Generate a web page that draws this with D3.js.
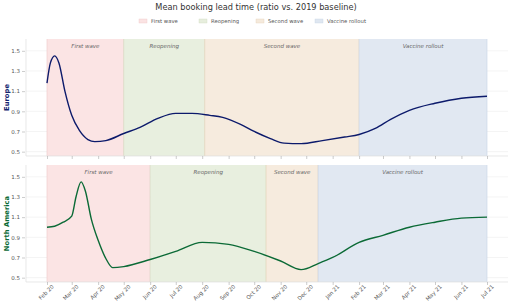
<!DOCTYPE html>
<html>
<head>
<meta charset="utf-8">
<script src="https://cdn.jsdelivr.net/npm/d3@7"></script>
<style>
  body { margin: 0; background: #fff; }
  svg { display: block; font-family: "DejaVu Sans", sans-serif; }
</style>
</head>
<body>
<div id="chart"></div>
<script>
// periods shown in legend
var phaseNames = ["First wave", "Reopening", "Second wave", "Vaccine rollout"]
var phaseColors = ["#fbe3e3", "#e7eedd", "#f5eadc", "#dfe7f1"]
var phaseEdges = ["#f0c8c8", "#d3dcc3", "#e6d3bb", "#c8d5e6"]

// phase boundaries per region
var europePhases = ["2020-02-01", "2020-05-01", "2020-08-04", "2021-02-01", "2021-07-01"]
var naPhases = ["2020-02-01", "2020-06-01", "2020-10-15", "2020-12-15", "2021-07-01"]

var europeDates = ["2020-02-01","2020-02-05","2020-02-10","2020-02-15","2020-02-22","2020-03-01",
  "2020-03-10","2020-03-20","2020-03-28","2020-04-10","2020-05-01","2020-05-20","2020-06-10",
  "2020-07-01","2020-07-20","2020-08-10","2020-08-25","2020-09-15","2020-10-01","2020-10-20",
  "2020-11-05","2020-11-25","2020-12-20","2021-01-15","2021-02-01","2021-02-20","2021-03-10",
  "2021-04-01","2021-05-01","2021-06-01","2021-07-01"]
var europeValues = [1.18,1.38,1.45,1.38,1.10,0.86,
  0.71,0.62,0.60,0.61,0.68,0.74,0.83,
  0.88,0.88,0.86,0.84,0.77,0.70,0.63,
  0.585,0.58,0.61,0.645,0.67,0.73,0.82,
  0.91,0.98,1.03,1.05]

var naDates = ["2020-02-01","2020-02-10","2020-02-20","2020-03-01","2020-03-06","2020-03-12",
  "2020-03-17","2020-03-24","2020-04-01","2020-04-10","2020-04-18","2020-05-01","2020-06-01",
  "2020-07-01","2020-08-01","2020-09-01","2020-10-01","2020-11-01","2020-11-25","2020-12-15",
  "2021-01-01","2021-02-01","2021-03-01","2021-04-01","2021-05-01","2021-06-01","2021-07-01"]
var naValues = [1.00,1.01,1.05,1.11,1.30,1.45,
  1.36,1.08,0.87,0.69,0.60,0.61,0.68,
  0.76,0.85,0.83,0.76,0.665,0.58,0.64,
  0.70,0.85,0.92,1.00,1.05,1.09,1.10]

var yTicks = [0.5, 0.7, 0.9, 1.1, 1.3, 1.5]
var monthTicks = ["2020-02-01","2020-03-01","2020-04-01","2020-05-01","2020-06-01","2020-07-01",
  "2020-08-01","2020-09-01","2020-10-01","2020-11-01","2020-12-01","2021-01-01","2021-02-01",
  "2021-03-01","2021-04-01","2021-05-01","2021-06-01","2021-07-01"]

var parse = d3.timeParse("%Y-%m-%d")
var fmt = d3.timeFormat("%b %y")

var width = 512, height = 307
var left = 26, right = 508

var svg = d3.select("#chart").append("svg")
  .attr("width", width)
  .attr("height", height)

svg.append("text")
  .attr("x", 256).attr("y", 10)
  .attr("text-anchor", "middle")
  .attr("font-size", 8.2)
  .attr("fill", "#333")
  .text("Mean booking lead time (ratio vs. 2019 baseline)")

// legend
var legendX = [139, 199, 256, 315]
phaseNames.forEach(function (name, i) {
  svg.append("rect")
    .attr("x", legendX[i]).attr("y", 19)
    .attr("width", 8).attr("height", 4)
    .attr("fill", phaseColors[i])
    .attr("stroke", phaseEdges[i]).attr("stroke-width", 0.4)
  svg.append("text")
    .attr("x", legendX[i] + 12).attr("y", 23)
    .attr("font-size", 5.3)
    .attr("fill", "#555")
    .text(name)
})

// time scale with matplotlib-like 5% margins
var t0 = parse("2020-02-01"), t1 = parse("2021-07-01")
var pad = (t1 - t0) * 0.0477
var x = d3.scaleTime()
  .domain([new Date(+t0 - pad), new Date(+t1 + pad)])
  .range([left, right])

function drawPanel(top, bottom, label, labelColor, lineColor, phases, dates, values, showLabels) {
  var y = d3.scaleLinear().domain([0.457, 1.617]).range([bottom, top])
  var g = svg.append("g")

  // gridlines
  g.selectAll(".grid").data(yTicks).enter().append("line")
    .attr("x1", left).attr("x2", right)
    .attr("y1", d => y(d)).attr("y2", d => y(d))
    .attr("stroke", "#ececec").attr("stroke-width", 0.6)

  // phase bands
  for (let i = 0; i < phaseNames.length; i++) {
    var a = x(parse(phases[i])), b = x(parse(phases[i + 1]))
    g.append("rect")
      .attr("x", a).attr("y", top)
      .attr("width", b - a).attr("height", bottom - top)
      .attr("fill", phaseColors[i]).attr("fill-opacity", 0.95)
    g.append("line")
      .attr("x1", a).attr("x2", a).attr("y1", top).attr("y2", bottom)
      .attr("stroke", phaseEdges[i]).attr("stroke-width", 0.6)
    g.append("line")
      .attr("x1", b).attr("x2", b).attr("y1", top).attr("y2", bottom)
      .attr("stroke", phaseEdges[i]).attr("stroke-width", 0.6)
    g.append("text")
      .attr("x", (a + b) / 2).attr("y", top + 9)
      .attr("text-anchor", "middle")
      .attr("font-size", 5.5)
      .attr("font-style", "italic")
      .attr("fill", "#666")
      .text(phaseNames[i])
  }

  // spines
  g.append("line").attr("x1", left).attr("x2", right).attr("y1", bottom).attr("y2", bottom)
    .attr("stroke", "#dedede").attr("stroke-width", 0.7)
  g.append("line").attr("x1", left).attr("x2", left).attr("y1", top).attr("y2", bottom)
    .attr("stroke", "#dedede").attr("stroke-width", 0.7)

  // y axis
  var axisY = d3.axisLeft(y).tickValues(yTicks).tickSize(3).tickPadding(2).tickFormat(d3.format(".1f"))
  var ay = g.append("g").attr("transform", "translate(" + (left - 1) + ",0)").call(axisY)
  ay.select(".domain").remove()
  ay.selectAll("line").attr("stroke", "#999").attr("stroke-width", 0.5)
  ay.selectAll("text").attr("font-size", 5.5).attr("fill", "#555")
    .attr("font-family", "DejaVu Sans, sans-serif")

  // x axis
  var axisX = d3.axisBottom(x).tickValues(monthTicks.map(parse)).tickSize(3).tickPadding(2)
    .tickFormat(showLabels ? fmt : "")
  var ax = g.append("g").attr("transform", "translate(0," + bottom + ")").call(axisX)
  ax.select(".domain").remove()
  ax.selectAll("line").attr("stroke", "#999").attr("stroke-width", 0.5)
  if (showLabels) {
    ax.selectAll("text")
      .attr("font-size", 5.5).attr("fill", "#555")
      .attr("font-family", "DejaVu Sans, sans-serif")
      .attr("text-anchor", "end")
      .attr("dx", "0.2em").attr("dy", "0.6em")
      .attr("transform", "rotate(-45)")
  }

  // series line
  var line = d3.line()
    .x((d, i) => x(parse(dates[i])))
    .y(d => y(d))
    .curve(d3.curveMonotoneX)
  g.append("path")
    .datum(values)
    .attr("d", line)
    .attr("fill", "none")
    .attr("stroke", lineColor)
    .attr("stroke-width", 1.4)

  // region label
  g.append("text")
    .attr("transform", "translate(9," + ((top + bottom) / 2) + ") rotate(-90)")
    .attr("text-anchor", "middle")
    .attr("font-size", 6.8)
    .attr("font-weight", "bold")
    .attr("fill", labelColor)
    .text(label)
}

drawPanel(39, 156, "Europe", "#13246e", "#0c1a6b", europePhases, europeDates, europeValues, false)
drawPanel(165, 282, "North America", "#0b6a36", "#0b6a36", naPhases, naDates, naValues, true)
</script>
</body>
</html>
